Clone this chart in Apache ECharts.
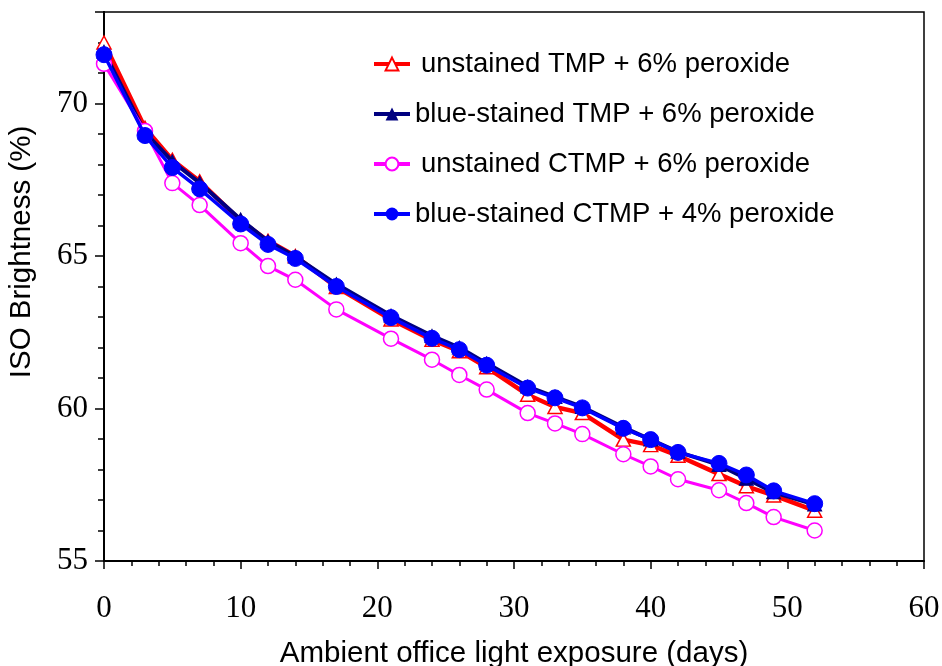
<!DOCTYPE html>
<html>
<head>
<meta charset="utf-8">
<script src="https://cdn.jsdelivr.net/npm/echarts@6/dist/echarts.min.js"></script>
<style>html,body{margin:0;padding:0;background:#fff}#c{width:942px;height:666px}</style>
</head>
<body>
<div id="c"></div>
<script>
const days = [0,3,5,7,10,12,14,17,21,24,26,28,31,33,35,38,40,42,45,47,49,52];
const unstainedTMP6 = [72.0,69.2,68.15,67.45,66.15,65.5,65.0,63.98,62.92,62.25,61.88,61.35,60.45,60.05,59.85,58.98,58.8,58.45,57.85,57.45,57.15,56.65];
const blueTMP6 = [71.7,69.05,68.1,67.4,66.2,65.48,64.98,64.08,63.05,62.38,62.0,61.48,60.72,60.38,60.05,59.38,58.98,58.58,58.15,57.7,57.25,56.85];
const unstainedCTMP6 = [71.3,69.1,67.39,66.67,65.42,64.67,64.22,63.25,62.29,61.6,61.1,60.62,59.85,59.51,59.16,58.5,58.1,57.68,57.32,56.9,56.44,56.0];
const blueCTMP4 = [71.6,68.95,67.9,67.2,66.05,65.38,64.92,64.0,62.98,62.3,61.93,61.42,60.67,60.35,60.02,59.35,58.98,58.56,58.2,57.82,57.3,56.88];
const names = ['unstained TMP + 6% peroxide','blue-stained TMP + 6% peroxide','unstained CTMP + 6% peroxide','blue-stained CTMP + 4% peroxide'];
const xTitle = 'Ambient office light exposure (days)';
const yTitle = 'ISO Brightness (%)';

const pair = arr => days.map((d,i)=>[d,arr[i]]);
const chart = echarts.init(document.getElementById('c'));
const serif = '"Liberation Serif","Times New Roman",serif';
const sans = '"Liberation Sans",Arial,sans-serif';
chart.setOption({
  animation:false,
  backgroundColor:'#fff',
  grid:{left:104,right:18,top:12,bottom:105,show:true,borderColor:'#000',borderWidth:1.5,containLabel:false,outerBoundsMode:'none'},
  xAxis:{type:'value',min:0,max:60,interval:10,
    name:xTitle,nameLocation:'middle',nameGap:78,
    nameTextStyle:{fontFamily:sans,fontSize:29.5,color:'#000'},
    axisLine:{lineStyle:{color:'#000',width:2}},
    axisTick:{length:8,lineStyle:{color:'#000',width:1.5}},
    minorTick:{show:true,splitNumber:5,length:5,lineStyle:{color:'#000',width:1.5}},
    axisLabel:{fontFamily:serif,fontSize:31,color:'#000',margin:32},
    splitLine:{show:false}},
  yAxis:[{type:'value',min:55,max:73,interval:1,position:'left',
    axisLine:{show:true,lineStyle:{color:'#000',width:2}},
    axisTick:{show:true,length:6,lineStyle:{color:'#000',width:1.5}},
    axisLabel:{show:false},splitLine:{show:false}},
   {type:'value',min:55,max:73,interval:5,position:'left',
    axisLine:{show:true,lineStyle:{color:'#000',width:2}},
    axisTick:{show:true,length:9,lineStyle:{color:'#000',width:1.5}},
    axisLabel:{fontFamily:serif,fontSize:31,color:'#000',margin:16,formatter:v=>(v%5===0?String(v):'')},
    splitLine:{show:false}}],
  legend:{left:372,top:50,padding:0,orient:'vertical',itemGap:22,itemWidth:36,itemHeight:16,
    lineStyle:{width:4},
    textStyle:{fontFamily:sans,fontSize:27.5,color:'#000'},
    data:[{name:names[0],textStyle:{padding:[0,0,0,6]}},{name:names[1]},{name:names[2],textStyle:{padding:[0,0,0,6]}},{name:names[3]}]},
  graphic:[{type:'text',x:22,y:252,rotation:Math.PI/2,
    style:{text:yTitle,fontFamily:sans,fontSize:29.5,fill:'#000',textAlign:'center',textVerticalAlign:'middle'}}],
  series:[
    {name:names[0],type:'line',data:pair(unstainedTMP6),z:2,symbol:'triangle',symbolSize:[14,13],
     lineStyle:{color:'#ff0000',width:4.5},itemStyle:{color:'#fff',borderColor:'#ff0000',borderWidth:1.5},color:'#ff0000'},
    {name:names[1],type:'line',data:pair(blueTMP6),z:3,symbol:'triangle',symbolSize:[14,13],
     lineStyle:{color:'#000080',width:4},itemStyle:{color:'#000080',borderColor:'#000080'},color:'#000080'},
    {name:names[2],type:'line',data:pair(unstainedCTMP6),z:4,symbol:'circle',symbolSize:15,
     lineStyle:{color:'#ff00ff',width:3},itemStyle:{color:'#fff',borderColor:'#ff00ff',borderWidth:1.5},color:'#ff00ff'},
    {name:names[3],type:'line',data:pair(blueCTMP4),z:5,symbol:'circle',symbolSize:16,
     lineStyle:{color:'#0000ff',width:3.5},itemStyle:{color:'#0000ff',borderColor:'#0000ff'},color:'#0000ff'}
  ]
});
</script>
</body>
</html>
